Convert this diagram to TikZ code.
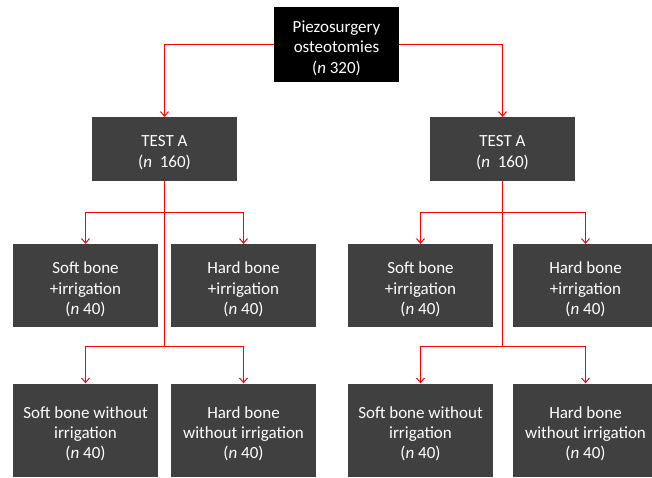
\documentclass[tikz,border=0pt]{standalone}
\usepackage{fontspec}
\setmainfont{Carlito}
\usetikzlibrary{arrows.meta}
\definecolor{boxgray}{HTML}{404040}
\begin{document}
\begin{tikzpicture}[x=1pt,y=-1pt,
  box/.style={fill=boxgray, inner sep=0pt, minimum width=145pt},
  boxtext/.style={text=white, inner sep=0pt, align=center,
    font=\fontsize{17}{20.3}\selectfont, yshift=-3.8pt},
  topbox/.style={box, fill=black, minimum width=125pt, minimum height=75pt},
  testbox/.style={box, minimum height=64pt},
  rowtwo/.style={box, minimum height=83pt},
  rowthree/.style={box, minimum height=93pt},
  conn/.style={draw=red, line width=1pt},
  arr/.style={conn, -{Straight Barb[length=4.5pt,width=8pt,line width=1pt]}}]
\useasboundingbox (0,0) rectangle (652,477);
\begin{scope}
\clip (0,0) rectangle (652,477);
\node[topbox, label={[boxtext]center:Piezosurgery\\osteotomies\\(\textit{n} 320)}] (top) at (336.5,44.5) {};
\node[testbox, label={[boxtext]center:TEST A\\(\textit{n}~ 160)}] (testL) at (164.5,149) {};
\node[testbox, label={[boxtext]center:TEST A\\(\textit{n}~ 160)}] (testR) at (502.5,149) {};
\node[rowtwo, label={[boxtext]center:Soft bone\\+irrigation\\(\textit{n} 40)}] (L1) at (85.5,285.5) {};
\node[rowtwo, label={[boxtext]center:Hard bone\\+irrigation\\(\textit{n} 40)}] (L2) at (243.5,285.5) {};
\node[rowtwo, label={[boxtext]center:Soft bone\\+irrigation\\(\textit{n} 40)}] (R1) at (420.5,285.5) {};
\node[rowtwo, label={[boxtext]center:Hard bone\\+irrigation\\(\textit{n} 40)}] (R2) at (585.5,285.5) {};
\node[rowthree, label={[boxtext]center:Soft bone without\\irrigation\\(\textit{n} 40)}] (L3) at (85.5,430) {};
\node[rowthree, label={[boxtext]center:Hard bone\\without irrigation\\(\textit{n} 40)}] (L4) at (243.5,430) {};
\node[rowthree, label={[boxtext]center:Soft bone without\\irrigation\\(\textit{n} 40)}] (R3) at (420.5,430) {};
\node[rowthree, label={[boxtext]center:Hard bone\\without irrigation\\(\textit{n} 40)}] (R4) at (585.5,430) {};
\end{scope}
\coordinate (jL1) at (164.5,212);
\coordinate (jL2) at (164.5,346);
\coordinate (jR1) at (502.5,212);
\coordinate (jR2) at (502.5,346);
\draw[arr] (top.west) -| (testL.north);
\draw[arr] (top.east) -| (testR.north);
\draw[conn] (testL.south) -- (jL2);
\draw[conn] (testR.south) -- (jR2);
\draw[arr] (jL1) -| (L1.north);
\draw[arr] (jL1) -| (L2.north);
\draw[arr] (jL2) -| (L3.north);
\draw[arr] (jL2) -| (L4.north);
\draw[arr] (jR1) -| (R1.north);
\draw[arr] (jR1) -| (R2.north);
\draw[arr] (jR2) -| (R3.north);
\draw[arr] (jR2) -| (R4.north);
\end{tikzpicture}
\end{document}
